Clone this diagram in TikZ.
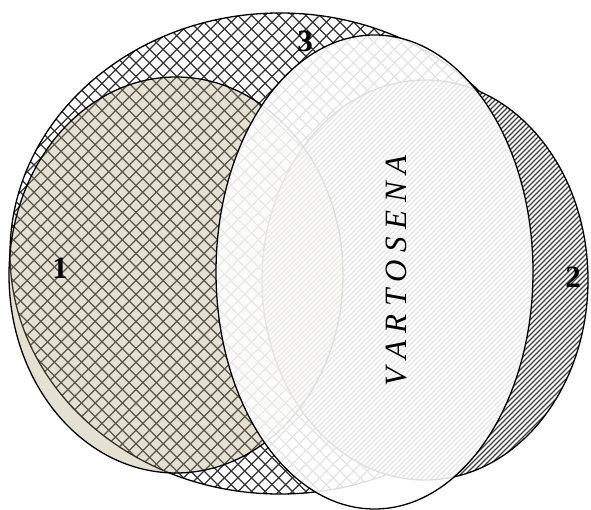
\documentclass[tikz,border=0pt]{standalone}
\usepackage{fontspec}
\setmainfont{Liberation Serif}
\definecolor{beigefill}{RGB}{172,163,120}
\newcommand\lspc{\hspace{7.5pt}}
\tikzset{
  outline/.style={draw=black, line width=1.3pt},
  xhatch/.style={draw=black!80, line width=1.25pt},
  dhatch/.style={draw=black!75, line width=1.2pt},
  numlabel/.style={font=\bfseries\fontsize{31}{31}\selectfont, inner sep=0pt},
  vertlabel/.style={font=\itshape\fontsize{31}{31}\selectfont, inner sep=0pt, rotate=90}
}
\begin{document}
\begin{tikzpicture}[x=1pt,y=-1pt]
\useasboundingbox (0,0) rectangle (591,510);
\fill[white] (0,0) rectangle (591,510);
\coordinate (c1) at (176,275);
\coordinate (c2) at (425,280);
\coordinate (c3) at (280,253.5);
\coordinate (cw) at (374.5,272);
% ellipse 3 : cross hatch
\begin{scope}
  \clip (c3) ellipse [x radius=270, y radius=240.5];
  \fill[white] (0,0) rectangle (591,510);
  \foreach \i in {-42,...,82} {
    \draw[xhatch] ({\i*13.6},-5) -- ++(530,530);
    \draw[xhatch] ({\i*13.6},-5) -- ++(-530,530);
  }
\end{scope}
\draw[outline] (c3) ellipse [x radius=270, y radius=240.5];
% ellipse 2 : diagonal hatch
\begin{scope}
  \clip (c2) ellipse [x radius=163, y radius=200];
  \fill[white] (0,0) rectangle (591,510);
  \foreach \i in {-55,...,120} {
    \draw[dhatch] ({\i*5},515) -- ++(530,-530);
  }
\end{scope}
\draw[outline] (c2) ellipse [x radius=163, y radius=200];
% ellipse 1 : beige translucent
\fill[beigefill, fill opacity=0.32] (c1) ellipse [x radius=167, y radius=198];
\draw[outline] (c1) ellipse [x radius=167, y radius=198];
% white translucent ellipse
\fill[white, fill opacity=0.87] (cw) ellipse [x radius=158.5, y radius=237];
\draw[outline] (cw) ellipse [x radius=158.5, y radius=237];
% labels
\node[numlabel] (l1) at (60,268) {1};
\node[numlabel] (l2) at (573,277) {2};
\node[numlabel] (l3) at (305,41) {3};
\node[vertlabel] (lv) at (396,271) {V\lspc A\lspc R\lspc T\lspc O\lspc S\lspc E\lspc N\lspc A};
\end{tikzpicture}
\end{document}
